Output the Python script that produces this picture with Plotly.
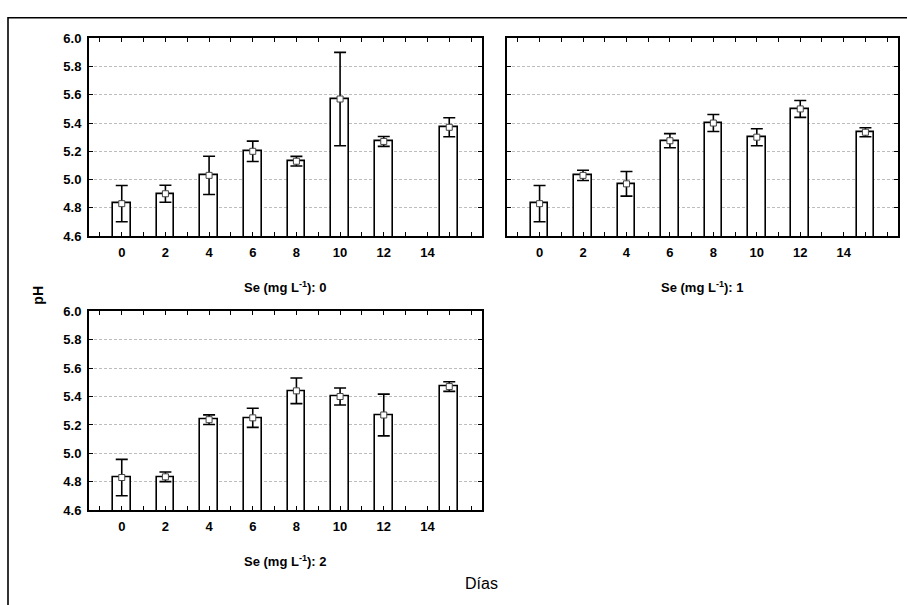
import plotly.graph_objects as go

# Sampling days and mean pH (± error) for each selenium dose
days = [0, 2, 4, 6, 8, 10, 12, 15]
day_ticks = [0, 2, 4, 6, 8, 10, 12, 14]

ph_se0 = [4.83, 4.90, 5.03, 5.20, 5.13, 5.57, 5.27, 5.37]
err_se0 = [0.128, 0.060, 0.135, 0.072, 0.034, 0.330, 0.035, 0.067]

ph_se1 = [4.83, 5.03, 4.97, 5.275, 5.40, 5.30, 5.50, 5.335]
err_se1 = [0.128, 0.036, 0.087, 0.050, 0.060, 0.060, 0.060, 0.032]

ph_se2 = [4.83, 4.835, 5.237, 5.25, 5.44, 5.40, 5.27, 5.47]
err_se2 = [0.128, 0.034, 0.034, 0.067, 0.090, 0.060, 0.147, 0.034]

doses = ["0", "1", "2"]
series = [(ph_se0, err_se0), (ph_se1, err_se1), (ph_se2, err_se2)]

W, H = 907, 605
FONT = "Liberation Sans, Arial, sans-serif"

# panel boxes in pixels: (left, right, top, bottom)
boxes = [(89, 482, 32, 235), (507, 898, 32, 235), (89, 482, 312, 516)]

fig = go.Figure()

for i, ((vals, errs), box) in enumerate(zip(series, boxes)):
    n = "" if i == 0 else str(i + 1)
    xa, ya = "x" + n, "y" + n
    fig.add_trace(go.Bar(
        x=days, y=vals, width=0.81,
        marker=dict(color="white", line=dict(color="black", width=1.6)),
        xaxis=xa, yaxis=ya, showlegend=False,
    ))
    fig.add_trace(go.Scatter(
        x=days, y=vals, mode="markers",
        marker=dict(symbol="square", size=6, color="white",
                    line=dict(color="#444444", width=1)),
        error_y=dict(type="data", array=errs, visible=True,
                     color="black", thickness=1.6, width=6),
        xaxis=xa, yaxis=ya, showlegend=False,
    ))

    l, r, t, b = box
    axis_common = dict(
        showline=True, linecolor="black", linewidth=2, mirror="ticks",
        ticks="inside", ticklen=4, tickwidth=1.2, tickcolor="black",
        zeroline=False,
        tickfont=dict(family=FONT, size=13, color="black", weight="bold"),
    )
    fig.layout["xaxis" + n] = dict(
        axis_common,
        domain=[l / W, r / W], anchor=ya,
        range=[-1.5, 16.5],
        tickmode="array", tickvals=day_ticks, ticktext=[str(d) for d in day_ticks],
        minor=dict(dtick=1, tick0=0, ticks="inside", ticklen=4,
                   tickwidth=1.2, tickcolor="black", showgrid=False),
        showgrid=False, ticklabelstandoff=3,
    )
    fig.layout["yaxis" + n] = dict(
        axis_common,
        domain=[1 - b / H, 1 - t / H], anchor=xa,
        range=[4.6, 6.0], dtick=0.2, tick0=4.6, tickformat=".1f",
        showgrid=True, gridcolor="#bdbdbd", gridwidth=1, griddash="3px,2px",
        showticklabels=(i != 1), ticklabelstandoff=3,
    )
    fig.add_annotation(
        x=(l + r) / 2 / W, y=1 - (b + 52) / H, xref="paper", yref="paper",
        text=f"Se (mg L<sup>-1</sup>): {doses[i]}", showarrow=False,
        font=dict(family=FONT, size=13, color="black", weight="bold"),
        xanchor="center", yanchor="middle",
    )

# shared axis titles
fig.add_annotation(
    x=38 / W, y=1 - 296 / H, xref="paper", yref="paper", text="pH",
    textangle=-90, showarrow=False,
    font=dict(family=FONT, size=14, color="black", weight="bold"),
    xanchor="center", yanchor="middle",
)
fig.add_annotation(
    x=481 / W, y=1 - 591 / H, xref="paper", yref="paper", text="Días",
    showarrow=False, font=dict(family=FONT, size=16, color="black"),
    xanchor="center", yanchor="middle",
)

# outer frame
fig.add_shape(type="rect", xref="paper", yref="paper",
              x0=8 / W, x1=1.05, y0=-0.05, y1=1 - 11 / H,
              line=dict(color="black", width=1.6), fillcolor="rgba(0,0,0,0)")

fig.update_layout(
    width=W, height=H, margin=dict(l=0, r=0, t=0, b=0),
    paper_bgcolor="white", plot_bgcolor="white",
    bargap=0, barmode="overlay",
)

fig.write_html("out.html")
